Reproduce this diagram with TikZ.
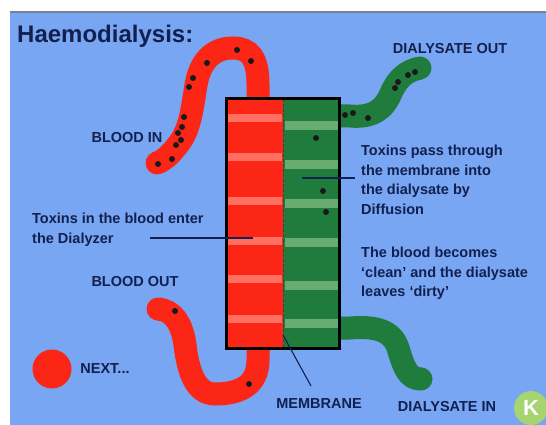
\documentclass[tikz,border=0pt]{standalone}
\usepackage{fontspec}
\setmainfont{Liberation Sans}
\usetikzlibrary{positioning}

\definecolor{bgblue}{RGB}{120,166,242}
\definecolor{topgray}{RGB}{120,130,145}
\definecolor{bloodred}{RGB}{252,38,22}
\definecolor{stripered}{RGB}{255,112,98}
\definecolor{dialgreen}{RGB}{32,124,60}
\definecolor{stripegreen}{RGB}{104,172,114}
\definecolor{navy}{RGB}{18,32,80}
\definecolor{logogreen}{RGB}{165,212,112}

\begin{document}
\begin{tikzpicture}[x=1pt,y=-1pt,
  lbl/.style={font=\fontsize{14.5}{19.5}\selectfont\bfseries, text=navy, inner sep=0pt},
  txt/.style={lbl, align=left, anchor=north west},
  leader/.style={navy, line width=1.1pt},
  tube/.style={line width=23pt}]

\useasboundingbox (0,0) rectangle (546,425);
\fill[bgblue] (10,13) rectangle (546,425);
\draw[topgray, line width=2.5pt] (10,12) -- (546,12);

% the dialyzer: blood side and dialysate side
\fill[bloodred] (226,98) rectangle (283,349);
\fill[dialgreen] (283,98) rectangle (340,349);
\foreach \y in {118,157,201,241,279,319}
  \fill[stripered] (228,\y-4) rectangle (282,\y+4);
\foreach \y in {126,164,203,242,285,323}
  \fill[stripegreen] (285,\y-4.5) rectangle (338,\y+4.5);
\draw[black!75, densely dashed, line width=0.8pt] (283,99) -- (283,348);
\draw[black, line width=3pt] (226.5,98.5) rectangle (339.5,348.5);

% tubes
\draw[tube, bloodred] (258,97) -- (258,85) .. controls (258,58) and (250,48) .. (233,48)
  .. controls (212,48) and (200,62) .. (196,85)
  .. controls (192,110) and (190,128) .. (180,142)
  .. controls (172,153) and (165,160) .. (157,163);
\fill[bloodred] (157,163) circle (11.5pt);
\draw[tube, bloodred] (258,350) -- (258,360) .. controls (258,385) and (240,394) .. (215,394)
  .. controls (195,394) and (188,370) .. (185,345)
  .. controls (182,322) and (172,310) .. (158,309);
\fill[bloodred] (158,309) circle (11.5pt);
\draw[tube, dialgreen] (341,116) -- (350,116) .. controls (372,118) and (384,110) .. (391,93)
  .. controls (398,78) and (406,71) .. (420,68);
\fill[dialgreen] (420,68) circle (11.5pt);
\draw[tube, dialgreen] (341,328) -- (350,328) .. controls (375,326) and (392,330) .. (398,348)
  .. controls (404,368) and (408,379) .. (421,379);
\fill[dialgreen] (421,379) circle (11.5pt);

% toxins
\foreach \p in {(237,50),(251,61),(207,63),(193,78),(189,87),(184,117),(182,127),
    (178,133),(181,140),(176,145),(172,159),(158,164),(175,311),(249,384),
    (345,115),(353,113),(368,118),(395,88),(398,82),(408,75),(415,72),
    (316,138),(323,191),(326,212)}
  \fill[black!90] \p circle (3pt);

% labels
\node[font=\fontsize{24}{24}\selectfont\bfseries, text=navy, inner sep=0pt, anchor=base west]
  (title) at (17,43) {Haemodialysis:};
\node[lbl] (bloodin) at (127,138) {BLOOD IN};
\node[lbl] (dialout) at (450,49) {DIALYSATE OUT};
\node[lbl] (bloodout) at (135,282) {BLOOD OUT};
\node[lbl] (membrane) at (319,404) {MEMBRANE};
\node[lbl] (dialin) at (447,407) {DIALYSATE IN};
\node[txt] (toxinsin) at (32,213) {Toxins in the blood enter\\the Dialyzer};
\node[txt] (toxinspass) at (361,145) {Toxins pass through\\the membrane into\\the dialysate by\\Diffusion};
\node[txt] (clean) at (361,247) {The blood becomes\\`clean' and the dialysate\\leaves `dirty'};

\node[circle, fill=bloodred, minimum size=39pt, inner sep=0pt] (nextdot) at (52,369) {};
\node[lbl, right=8.5pt of nextdot] (next) {NEXT...};

\node[circle, fill=logogreen, minimum size=34pt, inner sep=0pt, text=white,
  font=\fontsize{22}{22}\selectfont\bfseries] (logo) at (531,408) {K};

% leader lines
\coordinate (inleft) at (150,238);
\coordinate (inbox) at (253,238);
\coordinate (passbox) at (302,178);
\coordinate (passright) at (355,178);
\coordinate (memb) at (283,335);
\coordinate (membend) at (311,386);
\draw[leader] (inleft) -- (inbox);
\draw[leader] (passbox) -- (passright);
\draw[leader] (memb) -- (membend);

\end{tikzpicture}
\end{document}
